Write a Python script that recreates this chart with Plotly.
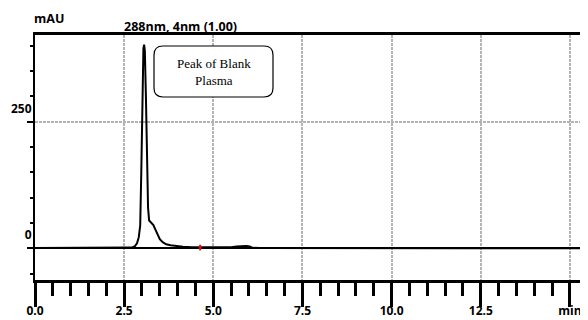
import plotly.graph_objects as go

# ---- data ----
time_min = [0.0, 1.0, 2.0, 2.6, 2.72, 2.8, 2.86, 2.91, 2.95, 2.98, 3.01, 3.04, 3.06,
            3.08, 3.11, 3.14, 3.17, 3.20, 3.24, 3.28, 3.32, 3.37, 3.43, 3.50, 3.58,
            3.68, 3.80, 3.95, 4.15, 4.4, 4.8, 5.2, 5.5, 5.65, 5.8, 5.92, 6.02, 6.1,
            6.3, 7.0, 9.0, 12.0, 15.3]
absorbance_mau = [0.5, 0.5, 0.5, 0.6, 1.5, 4, 10, 22, 45, 150, 320, 395, 402,
                  390, 300, 160, 80, 55, 52, 50, 46, 38, 28, 18, 12,
                  8, 6, 4.5, 3, 2, 1.5, 1.2, 2, 3.5, 4.5, 4.5, 3.5, 1,
                  0.5, 0.3, 0.2, 0.2, 0.2]
marker_time = [4.63]
marker_mau = [1.5]

x_tickvals = [0.0, 2.5, 5.0, 7.5, 10.0, 12.5, 15.0]
x_ticktext = ["0.0", "2.5", "5.0", "7.5", "10.0", "12.5", "min"]
y_tickvals = [0, 250]
y_ticktext = ["0", "250"]

title_text = "288nm, 4nm (1.00)"
y_unit = "mAU"
box_text = "Peak of Blank<br>Plasma"

# ---- geometry (page body has an 8px margin) ----
OFF = 8
W, H = 588 - OFF, 320 - OFF
L, T = 35 - OFF, 35 - OFF
R = W - (581 - OFF)
B = H - (280 - OFF)
PW, PH = W - L - R, H - T - B


def px(xs):  # screenshot x -> paper
    return (xs - OFF - L) / PW


def py(ys):  # screenshot y -> paper
    return (H - B - (ys - OFF)) / PH


fig = go.Figure()
fig.add_trace(go.Scatter(x=time_min, y=absorbance_mau, mode="lines",
                         line=dict(color="black", width=2), hoverinfo="skip"))
fig.add_trace(go.Scatter(x=marker_time, y=marker_mau, mode="markers",
                         marker=dict(symbol="line-ns", color="red", size=4,
                                     line=dict(color="red", width=2)),
                         hoverinfo="skip"))

lab_font = dict(family="Open Sans", size=12.5, color="black", weight="bold")
tick_font = dict(family="Open Sans", size=12, color="black", weight="bold")

fig.update_layout(
    width=W, height=H, margin=dict(l=L, r=R, t=T, b=B),
    paper_bgcolor="white", plot_bgcolor="white", showlegend=False,
    xaxis=dict(range=[0, 15.31], tickvals=x_tickvals, ticktext=x_ticktext,
               automargin=False,
               ticks="outside", ticklen=24, tickwidth=3, tickcolor="black",
               tickfont=tick_font, showline=True, linecolor="black", linewidth=2.5,
               mirror=True, showgrid=True, gridcolor="#b4b4b4", gridwidth=2,
               griddash="3px,1px", zeroline=False, ticklabelstandoff=-6,
               minor=dict(dtick=0.5, tick0=0, ticks="outside", ticklen=13,
                          tickwidth=2.5, tickcolor="black", showgrid=False)),
    yaxis=dict(range=[-62.6, 421.2], tickvals=y_tickvals, ticktext=y_ticktext,
               automargin=False,
               ticks="outside", ticklen=6, tickwidth=2, tickcolor="black",
               tickfont=tick_font, ticklabelposition="outside top",
               ticklabelshift=-4, ticklabelstandoff=-1,
               showline=True, linecolor="black", linewidth=2, mirror=True,
               showgrid=True, gridcolor="#b4b4b4", gridwidth=2, griddash="3px,1px",
               zeroline=True, zerolinecolor="black", zerolinewidth=2,
               minor=dict(dtick=50, tick0=0, ticks="outside", ticklen=3,
                          tickwidth=2, tickcolor="black", showgrid=False)),
)

# rounded annotation box
x0, x1, y0, y1, r = 154, 273, 46, 97, 9
rx, ry = r / PW, r / PH
a, b_, c, d = px(x0), px(x1), py(y1), py(y0)  # left, right, bottom, top
path = (f"M {a+rx},{d} L {b_-rx},{d} Q {b_},{d} {b_},{d-ry} "
        f"L {b_},{c+ry} Q {b_},{c} {b_-rx},{c} L {a+rx},{c} Q {a},{c} {a},{c+ry} "
        f"L {a},{d-ry} Q {a},{d} {a+rx},{d} Z")
fig.add_shape(type="path", xref="paper", yref="paper", path=path,
              line=dict(color="black", width=1.2), fillcolor="white")
fig.add_annotation(xref="paper", yref="paper", x=px((x0 + x1) / 2), y=py(71.5),
                   xanchor="center", yanchor="middle",
                   text=box_text, showarrow=False, align="center",
                   font=dict(family="Liberation Serif", size=13, color="black"))

fig.add_annotation(xref="paper", yref="paper", x=px(180), y=py(26),
                   text=title_text, showarrow=False, xanchor="center", yanchor="middle",
                   font=lab_font)
fig.add_annotation(xref="paper", yref="paper", x=px(49), y=py(18),
                   text=y_unit, showarrow=False, xanchor="center", yanchor="middle",
                   font=lab_font)

fig.write_html("out.html")
